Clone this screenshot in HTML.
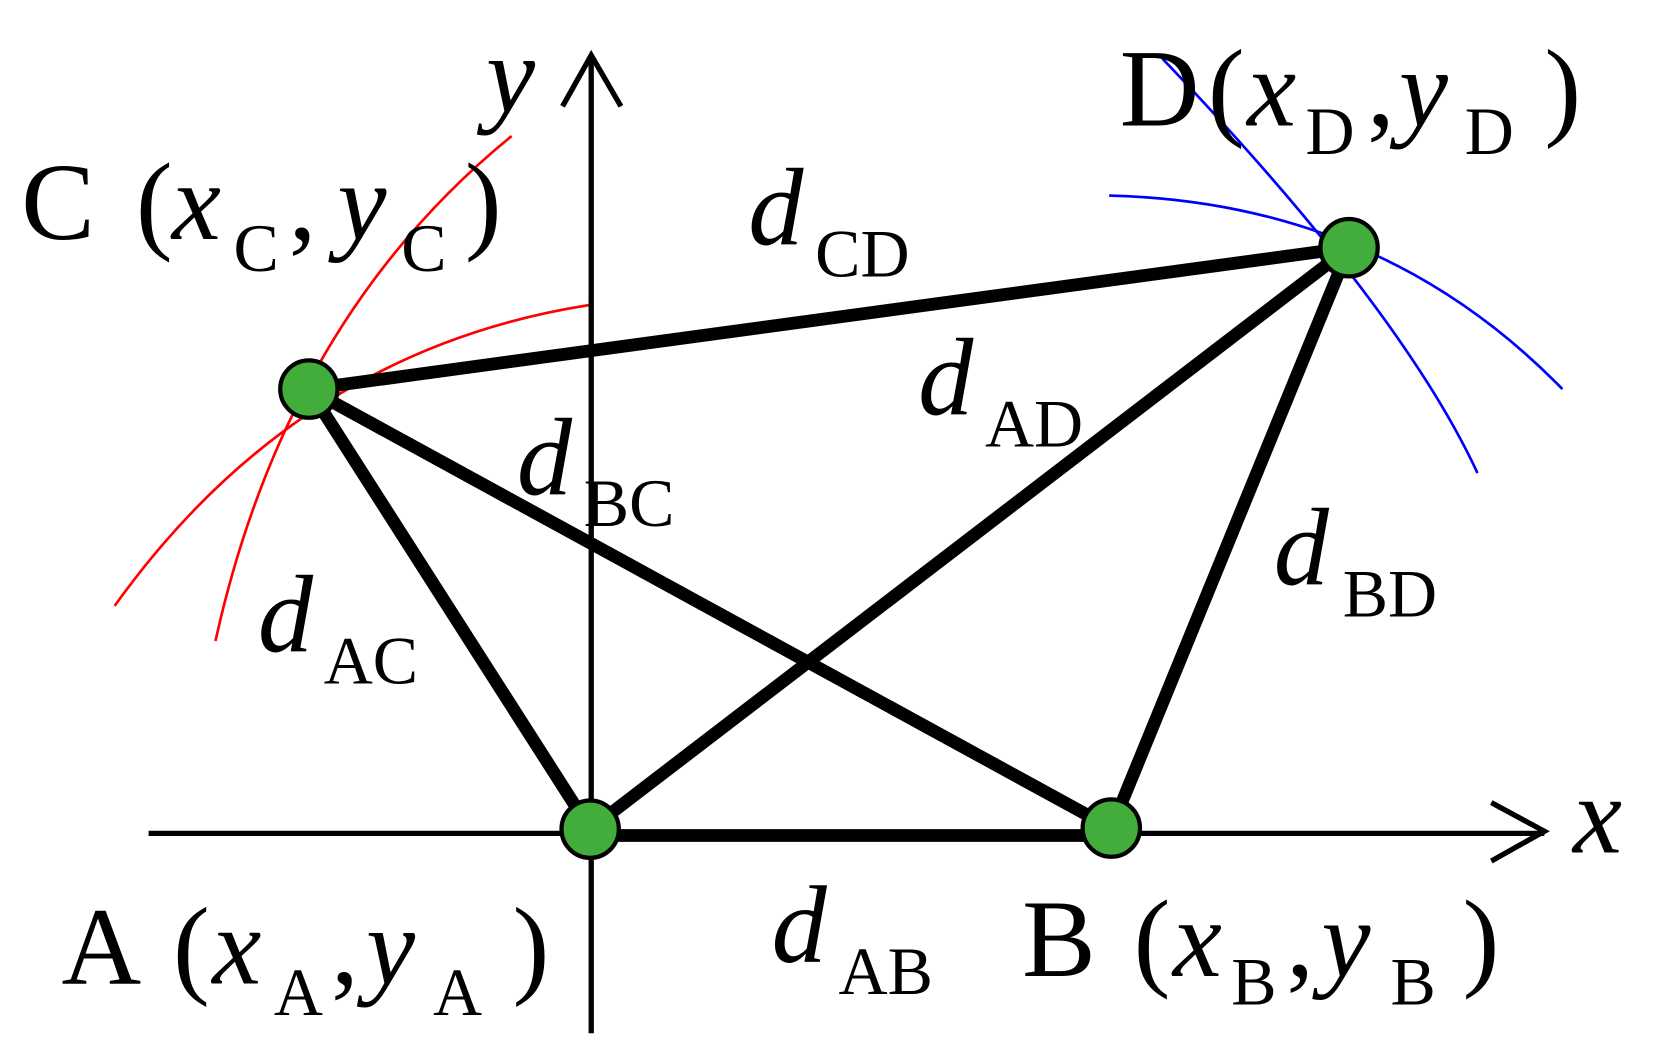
<!DOCTYPE html>
<html><head><meta charset="utf-8"><style>
html,body{margin:0;padding:0;background:#fff;}
svg{display:block;}
text{font-family:"Liberation Serif","Times New Roman",serif;fill:#000;}
.m{font-size:104px;}
.s{font-size:64px;}
.i{font-style:italic;}
</style></head><body>
<svg width="1659" height="1063" viewBox="0 0 1563 1000" preserveAspectRatio="none" xmlns="http://www.w3.org/2000/svg">
<rect width="1563" height="1000" fill="#fff"/>
<g fill="none" stroke-width="2.5">
<path d="M108 570 Q 280 330 555 287" stroke="#f00"/>
<path d="M203 603 Q 270 300 482 128" stroke="#f00"/>
<path d="M1095 55 Q 1320 290 1392 445" stroke="#00f"/>
<path d="M1045 184 Q 1300 190 1472 366" stroke="#00f"/>
</g>
<g stroke="#000" stroke-width="5" fill="none">
<line x1="140" y1="784" x2="1455" y2="784"/>
<polyline points="1405,755 1455,782 1405,810"/>
<line x1="557" y1="55" x2="557" y2="972"/>
<polyline points="530,100 557,52 585,100"/>
</g>
<g stroke="#000" stroke-width="12" stroke-linecap="round">
<line x1="556" y1="786" x2="1047" y2="786"/>
<line x1="556" y1="780" x2="291" y2="366"/>
<line x1="556" y1="780" x2="1271" y2="233"/>
<line x1="291" y1="366" x2="1047" y2="779"/>
<line x1="291" y1="366" x2="1271" y2="233"/>
<line x1="1047" y1="779" x2="1271" y2="233"/>
</g>
<g fill="#43ad3b" stroke="#000" stroke-width="4">
<circle cx="556" cy="780" r="27"/>
<circle cx="1047" cy="779" r="27"/>
<circle cx="291" cy="366" r="27"/>
<circle cx="1271" cy="233" r="27"/>
</g>
<text class="m i" x="458" y="105">y</text>
<text class="m i" x="1482" y="802">x</text>

<text class="m" x="20" y="225">C</text><text class="m" x="128" y="225">(</text><text class="m i" x="162" y="225">x</text><text class="s" x="220" y="255">C</text><text class="m" x="272" y="225">,</text><text class="m i" x="318" y="225">y</text><text class="s" x="378" y="255">C</text><text class="m" x="438" y="225">)</text>

<text class="m" x="1055" y="118">D</text><text class="m" x="1138" y="118">(</text><text class="m i" x="1175" y="118">x</text><text class="s" x="1230" y="145">D</text><text class="m" x="1288" y="118">,</text><text class="m i" x="1318" y="118">y</text><text class="s" x="1380" y="145">D</text><text class="m" x="1455" y="118">)</text>

<text class="m" x="58" y="925">A</text><text class="m" x="163" y="925">(</text><text class="m i" x="200" y="925">x</text><text class="s" x="258" y="955">A</text><text class="m" x="312" y="925">,</text><text class="m i" x="345" y="925">y</text><text class="s" x="408" y="955">A</text><text class="m" x="483" y="925">)</text>

<text class="m" x="963" y="918">B</text><text class="m" x="1068" y="918">(</text><text class="m i" x="1105" y="918">x</text><text class="s" x="1160" y="945">B</text><text class="m" x="1212" y="918">,</text><text class="m i" x="1245" y="918">y</text><text class="s" x="1310" y="945">B</text><text class="m" x="1378" y="918">)</text>

<text class="m i" x="705" y="230">d</text><text class="s" x="768" y="260">CD</text>
<text class="m i" x="865" y="390">d</text><text class="s" x="928" y="420">AD</text>
<text class="m i" x="487" y="465">d</text><text class="s" x="550" y="495">BC</text>
<text class="m i" x="1200" y="550">d</text><text class="s" x="1265" y="580">BD</text>
<text class="m i" x="243" y="613">d</text><text class="s" x="305" y="643">AC</text>
<text class="m i" x="727" y="905">d</text><text class="s" x="790" y="935">AB</text>
</svg>
</body></html>
